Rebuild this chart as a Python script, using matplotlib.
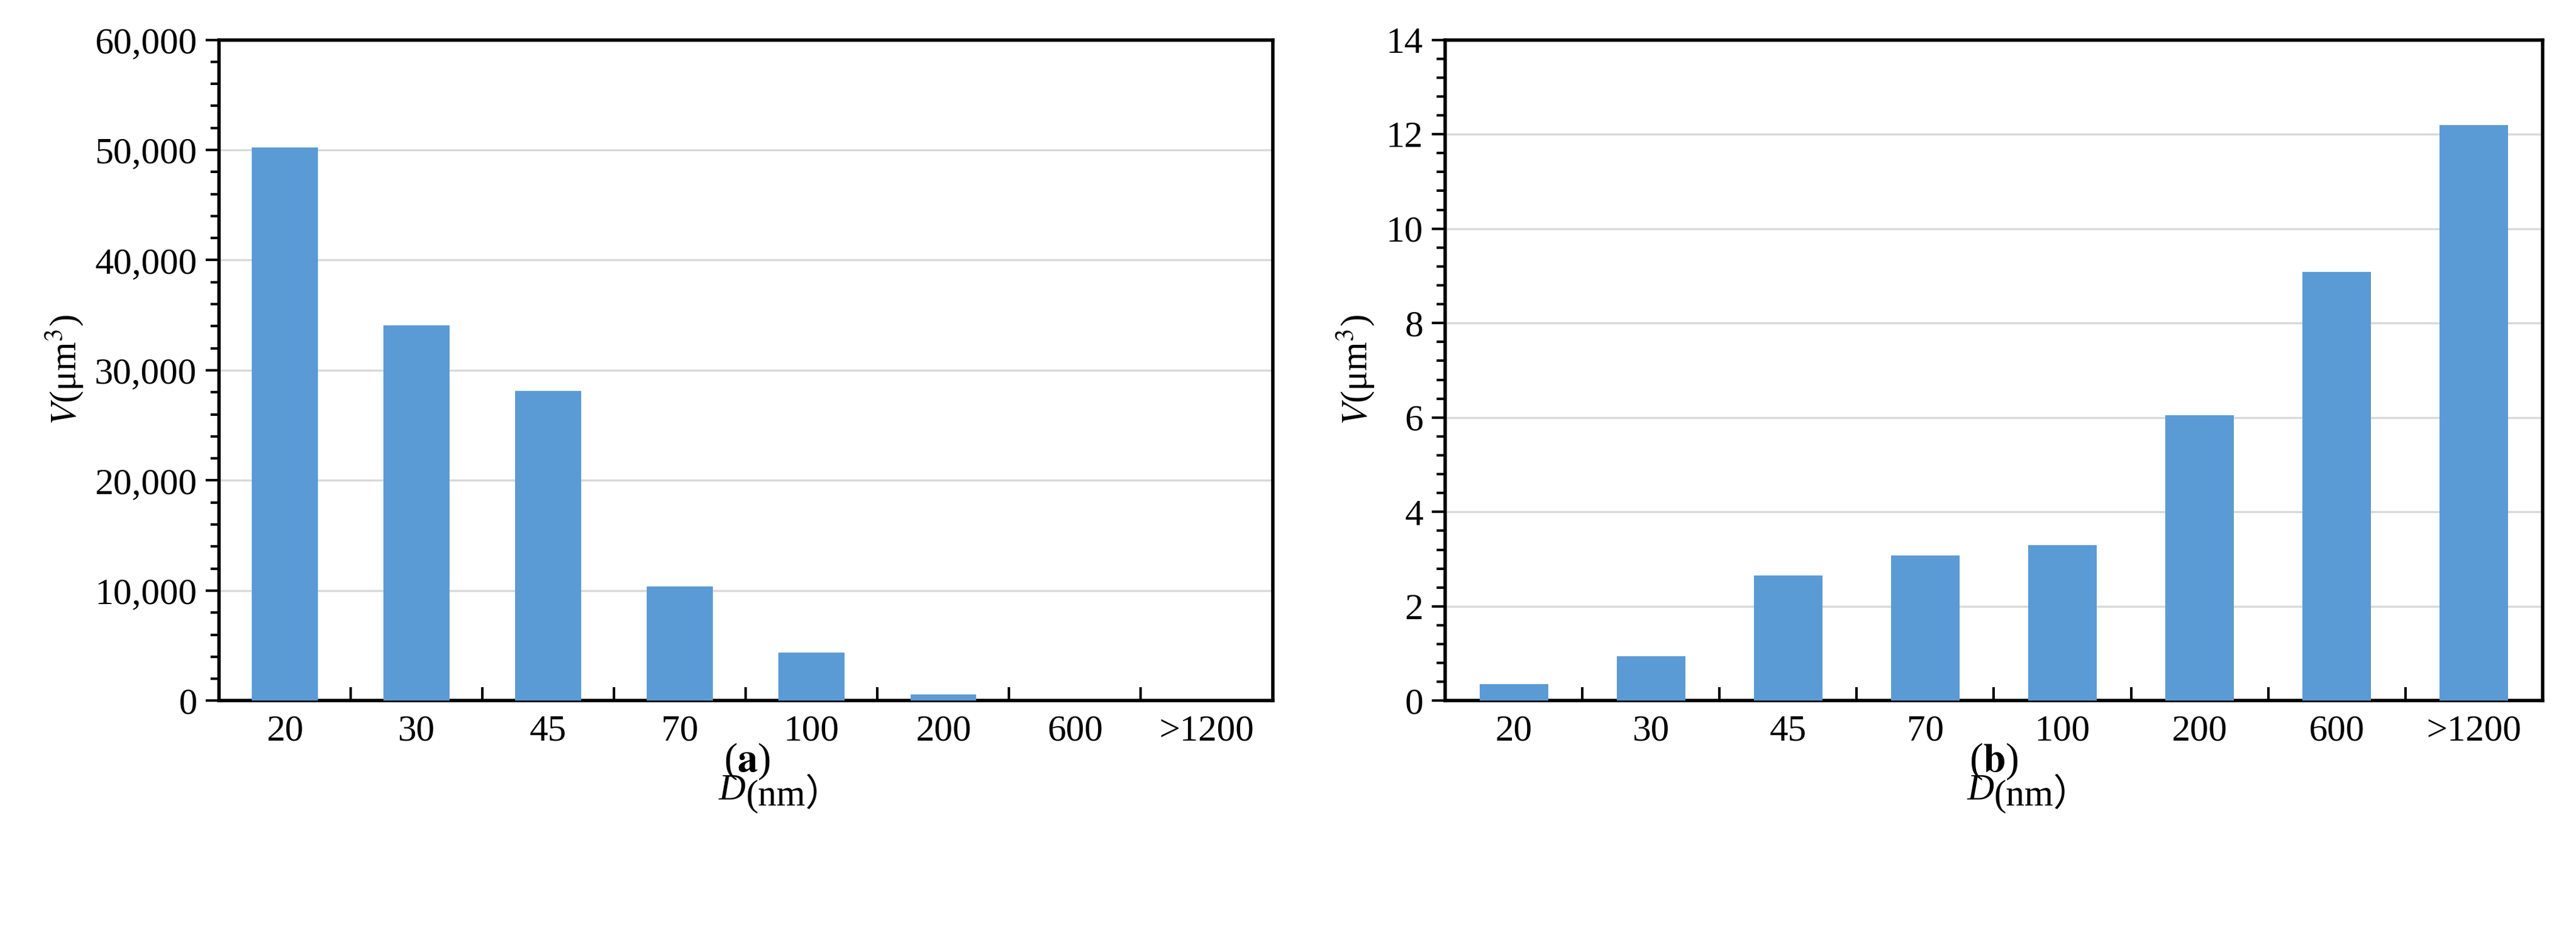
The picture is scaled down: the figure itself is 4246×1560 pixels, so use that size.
import matplotlib.pyplot as plt
from matplotlib.ticker import MultipleLocator, FuncFormatter

plt.rcParams['font.family'] = ['Liberation Serif', 'Noto Sans CJK SC']
plt.rcParams['mathtext.fontset'] = 'stix'

categories = ['20', '30', '45', '70', '100', '200', '600', '>1200']
volume_a = [50200, 34100, 28100, 10400, 4400, 600, 0, 0]
volume_b = [0.35, 0.95, 2.65, 3.08, 3.3, 6.05, 9.08, 12.2]

bar_color = '#5b9bd5'
fs = 44

fig = plt.figure(figsize=(42.46, 15.6), dpi=100)
ax_a = fig.add_axes([0.085, 0.26, 0.409, 0.698])
ax_b = fig.add_axes([0.561, 0.26, 0.426, 0.698])

setups = [
    (ax_a, volume_a, 60000, 10000, 2000, 'a', 0.29),
    (ax_b, volume_b, 14, 2, 0.4, 'b', 0.774),
]

for ax, vals, ymax, major, minor, tag, tag_x in setups:
    x = range(len(categories))
    ax.bar(x, vals, width=0.5, color=bar_color, zorder=3)
    ax.set_xlim(-0.5, len(categories) - 0.5)
    ax.set_ylim(0, ymax)
    ax.yaxis.set_major_locator(MultipleLocator(major))
    ax.yaxis.set_minor_locator(MultipleLocator(minor))
    if ymax > 100:
        ax.yaxis.set_major_formatter(FuncFormatter(lambda v, p: f'{int(v):,}'))
    ax.grid(axis='y', color='#d9d9d9', linewidth=2.5, zorder=0)
    ax.set_xticks(list(x))
    ax.set_xticklabels(categories)
    ax.set_xticks([i + 0.5 for i in range(len(categories) - 1)], minor=True)
    ax.tick_params(axis='x', which='major', length=0, pad=16, labelsize=fs)
    ax.tick_params(axis='x', which='minor', direction='in', length=16, width=3)
    ax.tick_params(axis='y', which='major', direction='out', length=16, width=3,
                   labelsize=fs, pad=10)
    ax.tick_params(axis='y', which='minor', direction='out', length=10, width=3)
    for s in ax.spines.values():
        s.set_linewidth(4)
    # x label: italic D followed by (nm）
    ax.text(0.5, -0.11, 'D', style='italic', fontsize=fs, ha='right', va='top',
            transform=ax.transAxes)
    ax.text(0.5, -0.11, '(nm）', fontsize=fs, ha='left', va='top',
            transform=ax.transAxes)
    ax.set_ylabel(r'$\it{V}$(μm$^3$)', fontsize=fs, labelpad=12)
    fig.text(tag_x, 0.196, f'($\\bf{{{tag}}}$)', fontsize=48, ha='center',
             va='center')

fig.savefig('out.png', dpi=100, facecolor='white')
